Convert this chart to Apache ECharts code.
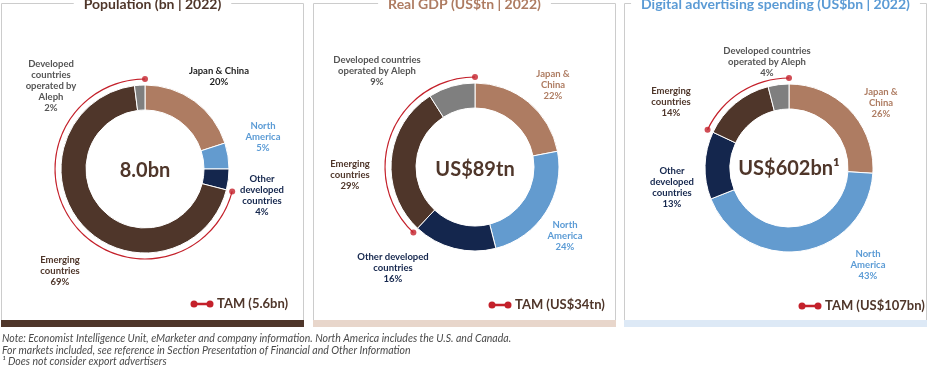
<!DOCTYPE html>
<html><head><meta charset="utf-8">
<script src="https://cdn.jsdelivr.net/npm/echarts@6/dist/echarts.min.js"></script>
<style>html,body{margin:0;padding:0;background:#fff}#c{width:930px;height:368px}</style>
</head><body><div id="c"></div>
<script>
// ---- data ----
const categories = ['Japan & China','North America','Other developed countries','Emerging countries','Developed countries operated by Aleph'];
const populationShare = [20, 5, 4, 69, 2];
const gdpShare = [22, 24, 16, 29, 9];
const adShare = [26, 43, 13, 14, 4];
const chartTitles = ['Population (bn | 2022)', 'Real GDP (US$tn | 2022)', 'Digital advertising spending (US$bn | 2022)'];
const centerTotals = ['8.0bn', 'US$89tn', 'US$602bn\u00b9'];
const tamLabels = ['TAM (5.6bn)', 'TAM (US$34tn)', 'TAM (US$107bn)'];
const tamCategories = [3, 4]; // Emerging + Aleph
const labelNames = [
  ['Japan & China', 'North\nAmerica', 'Other\ndeveloped\ncountries', 'Emerging\ncountries', 'Developed\ncountries\noperated by\nAleph'],
  ['Japan &\nChina', 'North\nAmerica', 'Other developed\ncountries', 'Emerging\ncountries', 'Developed countries\noperated by Aleph'],
  ['Japan &\nChina', 'North\nAmerica', 'Other\ndeveloped\ncountries', 'Emerging\ncountries', 'Developed countries\noperated by Aleph']
];
const notes = [
  'Note: Economist Intelligence Unit, eMarketer and company information. North America includes the U.S. and Canada.',
  'For markets included, see reference in Section Presentation of Financial and Other Information',
  '\u00b9 Does not consider export advertisers'
];

// ---- styling / layout ----
const sliceColors = ['#ae7c62', '#639bcf', '#14264d', '#4f362a', '#7f7f7f'];
const labelColors = [
  ['#1e1e1e', '#5b9bd5', '#14264d', '#4f362a', '#555555'],
  ['#ae7c62', '#5b9bd5', '#14264d', '#4f362a', '#555555'],
  ['#ae7c62', '#5b9bd5', '#14264d', '#4f362a', '#555555']
];
const titleColors = ['#4f362a', '#ae7c62', '#5b9bd5'];
const barColors = ['#4f362a', '#e8d6cb', '#dde9f6'];
const RED = '#c4212b';
const panels = [[1.5, 303.5], [313.5, 615.5], [624.5, 926.5]];
const centers = [[145, 169], [475, 167], [789, 168]];
const labelPos = [
  [[219, 76], [263, 137], [262, 195], [60, 271], [51, 86]],
  [[553, 85], [565, 236], [393, 268], [350, 175], [377, 71]],
  [[881, 103], [868, 265], [672, 187], [671, 102], [767, 62]]
];
const legendPos = [[192, 304], [490, 305], [800, 306]];
const FONT = 'Lato, "Noto Sans", sans-serif';

const shares = [populationShare, gdpShare, adShare];
const series = [];
const polar = [], angleAxis = [], radiusAxis = [];
const graphic = [];

shares.forEach((vals, ci) => {
  const tam = tamCategories.reduce((s, k) => s + vals[k], 0);
  series.push({
    type: 'pie', center: centers[ci], radius: [59, 84], startAngle: 90, clockwise: true,
    silent: true, animation: false, avoidLabelOverlap: false,
    itemStyle: { borderColor: '#fff', borderWidth: 1 },
    labelLine: { show: false },
    label: {
      show: true, fontFamily: FONT, fontWeight: 'bold', fontSize: 9.5, lineHeight: 11,
      overflow: 'none', width: 200,
      formatter: p => labelNames[ci][p.dataIndex] + '\n' + p.value + '%'
    },
    labelLayout: p => ({ x: labelPos[ci][p.dataIndex][0], y: labelPos[ci][p.dataIndex][1], align: 'center', verticalAlign: 'middle' }),
    data: vals.map((v, i) => ({ name: categories[i], value: v,
      itemStyle: { color: sliceColors[i] }, label: { color: labelColors[ci][i], align: 'center' } }))
  });
  // TAM arc
  series.push({
    type: 'pie', center: centers[ci], radius: [89.4, 90.6], startAngle: 90, clockwise: true,
    silent: true, animation: false, label: { show: false }, labelLine: { show: false },
    data: [{ value: 100 - tam, itemStyle: { color: 'rgba(0,0,0,0)' } }, { value: tam, itemStyle: { color: RED } }]
  });
  polar.push({ center: centers[ci], radius: [0, 90] });
  angleAxis.push({ polarIndex: ci, type: 'value', min: 0, max: 100, startAngle: 90, clockwise: true, show: false });
  radiusAxis.push({ polarIndex: ci, type: 'value', min: 0, max: 1, show: false });
  series.push({
    type: 'scatter', coordinateSystem: 'polar', polarIndex: ci, symbolSize: 6, silent: true, animation: false,
    itemStyle: { color: RED }, data: [[1, 100 - tam], [1, 100]]
  });

  // panel frame
  const [x1, x2] = panels[ci];
  graphic.push({ type: 'rect', shape: { x: x1, y: 3.5, width: x2 - x1, height: 317 }, style: { fill: 'none', stroke: '#cccccc', lineWidth: 1 }, silent: true });
  graphic.push({ type: 'rect', shape: { x: x1 - 0.5, y: 320, width: x2 - x1 + 1, height: 7 }, style: { fill: barColors[ci] }, silent: true });
  graphic.push({ type: 'text', x: (x1 + x2) / 2, y: 4, style: { text: chartTitles[ci], fill: titleColors[ci], font: 'bold 14px ' + FONT, align: 'center', verticalAlign: 'middle', backgroundColor: '#fff', padding: [2, 10] }, silent: true });
  // center total
  graphic.push({ type: 'text', x: centers[ci][0], y: [171, 170, 169][ci], style: { text: centerTotals[ci], fill: '#4f362a', font: 'bold 20px ' + FONT, align: 'center', verticalAlign: 'middle' }, silent: true });
  // legend
  const [lx, ly] = legendPos[ci];
  graphic.push({ type: 'line', shape: { x1: lx, y1: ly, x2: lx + 20, y2: ly }, style: { stroke: RED, lineWidth: 2.5 }, silent: true });
  graphic.push({ type: 'circle', shape: { cx: lx + 2, cy: ly, r: 3.5 }, style: { fill: RED }, silent: true });
  graphic.push({ type: 'circle', shape: { cx: lx + 18, cy: ly, r: 3.5 }, style: { fill: RED }, silent: true });
  graphic.push({ type: 'text', x: lx + 25, y: ly, style: { text: tamLabels[ci], fill: '#4f362a', font: 'bold 13px ' + FONT, align: 'left', verticalAlign: 'middle' }, silent: true });
});

notes.forEach((t, i) => {
  graphic.push({ type: 'text', x: 2, y: 339 + i * 11.5, style: { text: t, fill: '#4a4a4a', font: 'italic 10.5px ' + FONT, align: 'left', verticalAlign: 'middle' }, silent: true });
});

const chart = echarts.init(document.getElementById('c'), null, { renderer: 'canvas' });
chart.setOption({
  animation: false,
  polar, angleAxis, radiusAxis,
  series,
  graphic: { elements: graphic }
});
</script></body></html>
